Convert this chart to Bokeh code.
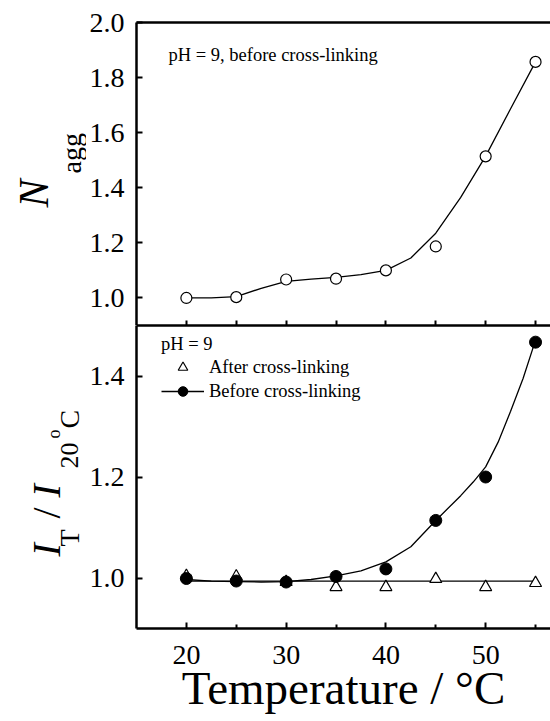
import math
from bokeh.plotting import figure
from bokeh.layouts import column, row
from bokeh.models import (LinearAxis, FixedTicker, Label, Legend, LegendItem,
                          Range1d, PrintfTickFormatter)
from bokeh.embed import file_html
from bokeh.resources import INLINE

# ---------------- data ----------------
temps = [20, 25, 30, 35, 40, 45, 50, 55]
n_agg = [1.000, 1.003, 1.067, 1.070, 1.100, 1.187, 1.514, 1.857]

fit_temps = [20, 22.5, 25, 27.5, 30, 32.5, 35, 37.5, 40, 42.5, 45, 47.5, 50, 52.5, 55]
n_agg_fit = [1.000, 1.000, 1.005, 1.035, 1.060, 1.068, 1.075, 1.085, 1.100,
             1.145, 1.235, 1.365, 1.515, 1.687, 1.857]

ratio_before = [0.999, 0.994, 0.992, 1.003, 1.018, 1.114, 1.200, 1.467]
before_fit_temps = [20, 22.5, 25, 27.5, 30, 32.5, 35, 37.5, 40, 42.5, 45, 47.5,
                    48.75, 50, 51.25, 52.5, 53.75, 55]
ratio_before_fit = [0.997, 0.994, 0.993, 0.992, 0.993, 0.997, 1.004, 1.014, 1.032,
                    1.062, 1.114, 1.163, 1.190, 1.220, 1.269, 1.330, 1.395, 1.471]

ratio_after = [1.004, 1.003, 0.992, 0.982, 0.982, 0.998, 0.982, 0.990]
after_fit_temps = [20, 55]
ratio_after_fit = [0.994, 0.994]

x_major = [20, 30, 40, 50]
x_minor = [25, 35, 45, 55]
x_all = [20, 25, 30, 35, 40, 45, 50, 55]
top_y_ticks = [1.0, 1.2, 1.4, 1.6, 1.8, 2.0]
bottom_y_ticks = [1.0, 1.2, 1.4]

# ---------------- style ----------------
FONT = "Liberation Serif"
LW = 86            # width of the y-title strip
MW = 550 - LW      # width of the plot column
TOP_H = 325
BOT_H = 721 - TOP_H
X_RANGE = (15, 56.5)
SMALL = "18.5px"


def style_axis(ax, ticks, minor=(), labels=True, tick_len=6, minor_len=4):
    ax.ticker = FixedTicker(ticks=list(ticks), minor_ticks=list(minor))
    ax.axis_line_width = 2.5
    ax.axis_line_color = "black"
    ax.major_tick_in = tick_len
    ax.major_tick_out = 0
    ax.minor_tick_in = minor_len
    ax.minor_tick_out = 0
    ax.major_tick_line_width = 2
    ax.minor_tick_line_width = 2
    ax.major_tick_line_color = "black"
    ax.minor_tick_line_color = "black"
    if labels:
        ax.formatter = PrintfTickFormatter(format="%d" if isinstance(ticks[0], int) else "%.1f")
        ax.major_label_text_font = FONT
        ax.major_label_text_font_size = "28px"
        ax.major_label_text_color = "black"
    else:
        ax.major_label_standoff = 0


def bare(p):
    p.outline_line_color = None
    p.background_fill_color = "white"
    p.border_fill_color = "white"
    p.xgrid.visible = False
    p.ygrid.visible = False


def lab(p, x, y, text, size, style="normal", angle=0.0):
    p.add_layout(Label(x=x, y=y, x_units="screen", y_units="screen", text=text,
                       text_font=FONT, text_font_size=size, text_font_style=style,
                       text_color="black", angle=angle, text_align="left",
                       text_baseline="alphabetic"))


def strip(h):
    s = figure(width=LW, height=h, x_range=Range1d(0, 1), y_range=Range1d(0, 1),
               output_backend="svg", toolbar_location=None, title=None,
               x_axis_location=None, y_axis_location=None,
               min_border_left=0, min_border_right=0, min_border_top=0, min_border_bottom=0)
    bare(s)
    return s


# ---------------- top panel ----------------
top = figure(width=MW, height=TOP_H, x_range=Range1d(*X_RANGE), y_range=Range1d(0.9, 2.0),
             output_backend="svg", toolbar_location=None, title=None,
             x_axis_location=None, y_axis_location=None,
             min_border_left=135 - LW, min_border_right=0, min_border_top=22, min_border_bottom=0)
bare(top)

ax = LinearAxis()
style_axis(ax, top_y_ticks)
ax.major_label_standoff = 12
top.add_layout(ax, "left")
ax = LinearAxis()
style_axis(ax, [], x_all, labels=False, minor_len=5)
top.add_layout(ax, "below")
ax = LinearAxis()
style_axis(ax, [], labels=False, tick_len=0, minor_len=0)
top.add_layout(ax, "above")

top.line(fit_temps, n_agg_fit, line_color="black", line_width=1.3)
top.scatter(temps, n_agg, marker="circle", size=11, fill_color="white",
            line_color="black", line_width=1.2)

lab(top, 32, 271, "pH = 9, before cross-linking", SMALL)

# ---------------- bottom panel ----------------
bot = figure(width=MW, height=BOT_H, x_range=top.x_range, y_range=Range1d(0.9, 1.5),
             output_backend="svg", toolbar_location=None, title=None,
             x_axis_location=None, y_axis_location=None,
             min_border_left=135 - LW, min_border_right=0, min_border_top=0,
             min_border_bottom=721 - 628)
bare(bot)

ax = LinearAxis()
style_axis(ax, bottom_y_ticks)
ax.major_label_standoff = 12
bot.add_layout(ax, "left")
ax = LinearAxis()
style_axis(ax, x_major, x_minor)
ax.major_label_standoff = 17
ax.axis_label = "Temperature / \u00b0C"
ax.axis_label_text_font = FONT
ax.axis_label_text_font_size = "47px"
ax.axis_label_text_font_style = "normal"
ax.axis_label_text_color = "black"
ax.axis_label_standoff = -5
bot.add_layout(ax, "below")
ax = LinearAxis()
style_axis(ax, [], labels=False, tick_len=0, minor_len=0)
bot.add_layout(ax, "above")

r_after_fit = bot.line(after_fit_temps, ratio_after_fit, line_color="black", line_width=1.2)
r_before_fit = bot.line(before_fit_temps, ratio_before_fit, line_color="black", line_width=1.3)
r_after = bot.scatter(temps, ratio_after, marker="triangle", size=12, fill_color="white",
                      line_color="black", line_width=1.2)
r_before = bot.scatter(temps, ratio_before, marker="circle", size=12, fill_color="black",
                       line_color="black")

legend = Legend(items=[LegendItem(label="After cross-linking", renderers=[r_after]),
                       LegendItem(label="Before cross-linking", renderers=[r_before_fit, r_before])],
                location=(25, 225), title="pH = 9",
                title_text_font=FONT, title_text_font_size=SMALL, title_text_font_style="normal",
                title_text_color="black", title_standoff=0,
                label_text_font=FONT, label_text_font_size=SMALL, label_text_color="black",
                glyph_width=43, glyph_height=24, label_height=24, label_standoff=5,
                spacing=0, padding=0, margin=0,
                border_line_alpha=0, background_fill_alpha=0)
bot.add_layout(legend)

# ---------------- y titles (in strips left of the panels) ----------------
ytop = strip(TOP_H)
lab(ytop, 33, TOP_H - 207, "N", "42px", "italic", math.pi / 2)
lab(ytop, 71, TOP_H - 173, "agg", "28px", "normal", math.pi / 2)

ybot = strip(BOT_H)
lab(ybot, 46, 721 - 556, "I", "40px", "italic", math.pi / 2)
lab(ybot, 69, 721 - 546, "T", "28px", "normal", math.pi / 2)
lab(ybot, 46, 721 - 518, "/", "40px", "normal", math.pi / 2)
lab(ybot, 46, 721 - 497, "I", "40px", "italic", math.pi / 2)
lab(ybot, 69, 721 - 468, "20", "26px", "normal", math.pi / 2)
lab(ybot, 53, 721 - 438, "o", "18px", "normal", math.pi / 2)
lab(ybot, 69, 721 - 428, "C", "28px", "normal", math.pi / 2)

layout = row(column(ytop, ybot, spacing=0), column(top, bot, spacing=0), spacing=0)
open("out.html", "w").write(file_html(layout, INLINE))
